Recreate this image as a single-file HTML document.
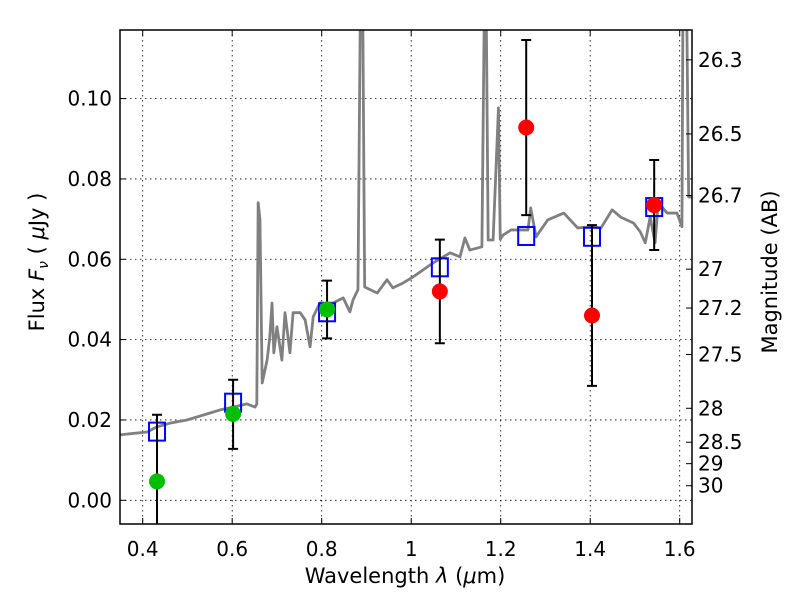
<!DOCTYPE html>
<html><head><meta charset="utf-8"><style>
body{margin:0;background:#fff;}
svg text{font-family:"DejaVu Sans","Liberation Sans",sans-serif;fill:#000;}
</style></head><body>
<svg id="chart" width="800" height="600" xmlns="http://www.w3.org/2000/svg">
<defs><clipPath id="clip"><rect x="120" y="30" width="572" height="494"/></clipPath></defs>
<g id="grid"></g>
<g id="series" clip-path="url(#clip)"></g>
<rect x="120" y="30" width="572" height="494" fill="none" stroke="#000" stroke-width="1.5"/>
<g id="axes"></g>
<text x="405" y="583" font-size="21" text-anchor="middle">Wavelength  <tspan font-style="italic">λ</tspan> (<tspan font-style="italic">μ</tspan>m)</text>
<text transform="translate(44,262) rotate(-90)" font-size="21" text-anchor="middle">Flux  <tspan font-style="italic">F<tspan font-size="14" dy="4">ν</tspan></tspan><tspan dy="-4">  ( </tspan><tspan font-style="italic">μ</tspan>Jy )</text>
<text transform="translate(777,272) rotate(-90)" font-size="21" text-anchor="middle">Magnitude (AB)</text>
</svg>
<script>
const specLam=[0.349,0.410,0.432,0.461,0.499,0.535,0.573,0.602,0.633,0.651,0.655,0.658,0.662,0.667,0.678,0.684,0.689,0.693,0.700,0.711,0.718,0.729,0.736,0.752,0.763,0.774,0.781,0.796,0.825,0.848,0.863,0.870,0.881,0.886,0.892,0.896,0.924,0.946,0.959,0.982,1.004,1.049,1.087,1.109,1.120,1.131,1.158,1.163,1.168,1.172,1.183,1.195,1.199,1.205,1.223,1.261,1.267,1.279,1.305,1.341,1.372,1.401,1.424,1.449,1.468,1.497,1.512,1.523,1.534,1.545,1.552,1.572,1.594,1.605,1.607,1.616,1.620,1.627];
const specFlux=[.0163,.0170,.0183,.0192,.0200,.0212,.0225,.0232,.0240,.0232,.0240,.0741,.0700,.0292,.0349,.0406,.0491,.0367,.0432,.0349,.0467,.0367,.0467,.0467,.0449,.0382,.0457,.0491,.0491,.0504,.0469,.0499,.0524,.118,.118,.0531,.0516,.0549,.0529,.0541,.0556,.0591,.0616,.0606,.0653,.0623,.0631,.118,.118,.0648,.0648,.0977,.0650,.0660,.0673,.0673,.0728,.0656,.0698,.0715,.0678,.0681,.0678,.0723,.0705,.0690,.0668,.0641,.0705,.0641,.0741,.0715,.0715,.0681,.118,.118,.0755,.0755];
const modelLam=[0.432,0.602,0.812,1.064,1.257,1.404,1.543];
const modelFlux=[0.0171,0.0243,0.0468,0.0580,0.0658,0.0656,0.0730];
const greenLam=[0.432,0.602,0.812];
const greenFlux=[0.0047,0.0215,0.0475];
const greenErrLo=[0.0166,0.0087,0.0072];
const greenErrHi=[0.0166,0.0085,0.0072];
const redLam=[1.064,1.257,1.404,1.543];
const redFlux=[0.0520,0.0928,0.0460,0.0735];
const redErrLo=[0.0129,0.0218,0.0175,0.0112];
const redErrHi=[0.0129,0.0218,0.0225,0.0112];
const xTicks=[0.4,0.6,0.8,1.0,1.2,1.4,1.6];
const xTickLabels=["0.4","0.6","0.8","1","1.2","1.4","1.6"];
const yTicks=[0,0.02,0.04,0.06,0.08,0.10];
const yTickLabels=["0.00","0.02","0.04","0.06","0.08","0.10"];
const magTicks=[26.3,26.5,26.7,27,27.2,27.5,28,28.5,29,30];
const magLabels=["26.3","26.5","26.7","27","27.2","27.5","28","28.5","29","30"];

const NS="http://www.w3.org/2000/svg";
const X=l=>142.7+(l-0.4)*447.5;
const Y=f=>500.3-f*4017;
function mk(tag,attrs,parent){const e=document.createElementNS(NS,tag);for(const k in attrs)e.setAttribute(k,attrs[k]);parent.appendChild(e);return e;}
const grid=document.getElementById('grid'),ser=document.getElementById('series'),axes=document.getElementById('axes');

xTicks.forEach((t,i)=>{
  const g=mk('line',{x1:X(t),x2:X(t),y1:30,y2:524,stroke:'#000','stroke-width':0.8,'stroke-dasharray':'1.5,3.5'},grid);
  
  
  mk('line',{x1:X(t),x2:X(t),y1:524,y2:518,stroke:'#000'},axes);
  mk('line',{x1:X(t),x2:X(t),y1:30,y2:36,stroke:'#000'},axes);
  const tx=mk('text',{x:X(t),y:556,'font-size':20,'text-anchor':'middle'},axes);
  tx.textContent=xTickLabels[i];
  
  
});
yTicks.forEach((t,i)=>{
  const g=mk('line',{x1:120,x2:692,y1:Y(t),y2:Y(t),stroke:'#000','stroke-width':0.8,'stroke-dasharray':'1.5,3.5'},grid);
  
  
  mk('line',{x1:120,x2:126,y1:Y(t),y2:Y(t),stroke:'#000'},axes);
  const tx=mk('text',{x:112,y:Y(t)+7,'font-size':20,'text-anchor':'end'},axes);
  tx.textContent=yTickLabels[i];
  
  
});
magTicks.forEach((m,i)=>{
  const y=Y(Math.pow(10,(23.9-m)/2.5));
  mk('line',{x1:686,x2:692,y1:y,y2:y,stroke:'#000'},axes);
  const tx=mk('text',{x:698,y:y+7,'font-size':20},axes);
  tx.textContent=magLabels[i];
  
  
});

const sp=mk('polyline',{points:specLam.map((l,i)=>X(l)+','+Y(specFlux[i])).join(' '),fill:'none',stroke:'#808080','stroke-width':2.8,'stroke-linejoin':'round'},ser);



modelLam.forEach((l,i)=>{
  const r=mk('rect',{x:X(l)-8,y:Y(modelFlux[i])-9,width:16,height:18,fill:'none',stroke:'#0000ff','stroke-width':2},ser);
  
  
});
function pts(lams,fl,lo,hi,col,name){
  lams.forEach((l,i)=>{
    const x=X(l),t=Y(fl[i]+hi[i]),b=Y(fl[i]-lo[i]);
    const e=mk('path',{d:`M${x},${t}V${b}M${x-5},${t}H${x+5}M${x-5},${b}H${x+5}`,stroke:'#000','stroke-width':2,fill:'none'},ser);
    
    
    const c=mk('circle',{cx:x,cy:Y(fl[i]),r:8,fill:col},ser);
    
    
  });
}
pts(greenLam,greenFlux,greenErrLo,greenErrHi,'#00bf00','detection-point');
pts(redLam,redFlux,redErrLo,redErrHi,'#ff0000','observed-point');
</script>
</body></html>
